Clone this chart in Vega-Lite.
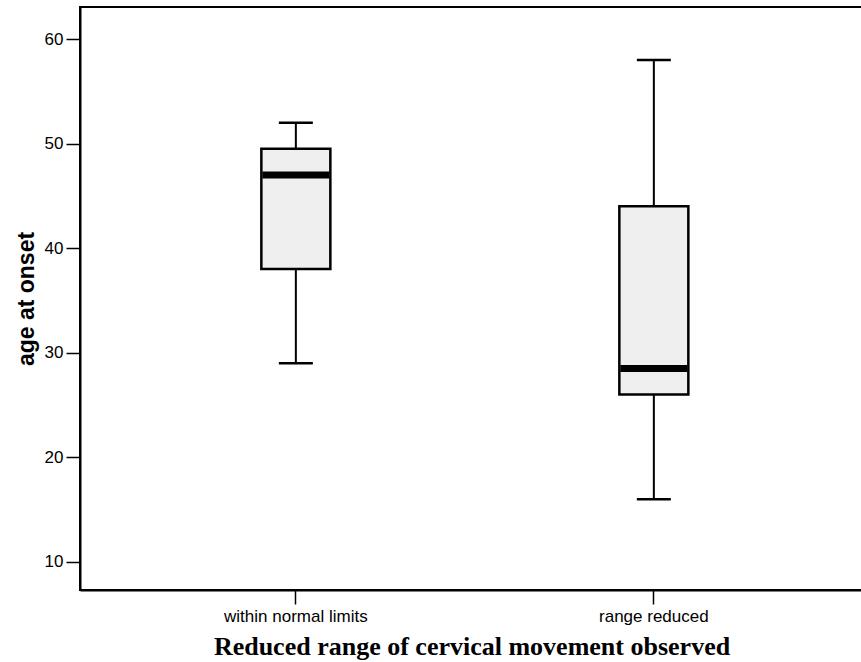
{
  "$schema": "https://vega.github.io/schema/vega-lite/v6.json",
  "autosize": "none",
  "padding": {"left": 80, "top": 7, "right": 0, "bottom": 72},
  "width": 783,
  "height": 583,
  "background": "white",
  "config": {
    "view": {"stroke": "black", "strokeWidth": 2},
    "font": "Liberation Sans"
  },
  "data": {
    "values": [
      {"group": "within normal limits", "min": 29, "q1": 38, "median": 47, "q3": 49.5, "max": 52},
      {"group": "range reduced", "min": 16, "q1": 26, "median": 28.5, "q3": 44, "max": 58}
    ]
  },
  "encoding": {
    "x": {
      "field": "group",
      "type": "nominal",
      "sort": ["within normal limits", "range reduced"],
      "scale": {"paddingInner": 0, "paddingOuter": 0.0936, "align": 0.55},
      "axis": {
        "title": "Reduced range of cervical movement observed",
        "titleFont": "Liberation Serif",
        "titleFontSize": 26,
        "titleFontWeight": "bold",
        "titleColor": "black",
        "titlePadding": 9,
        "labelAngle": 0,
        "labelFont": "Liberation Sans",
        "labelFontSize": 17,
        "labelColor": "black",
        "labelPadding": 4,
        "tickSize": 14,
        "tickColor": "black",
        "tickWidth": 1.5,
        "domainColor": "black",
        "domainWidth": 2
      }
    }
  },
  "layer": [
    {
      "mark": {"type": "rule", "color": "black", "strokeWidth": 2},
      "encoding": {
        "y": {
          "field": "min",
          "type": "quantitative",
          "scale": {"domain": [7.32, 63.06], "nice": false, "zero": false},
          "axis": {
            "title": "age at onset",
            "titleFont": "Liberation Sans",
            "titleFontSize": 23,
            "titleFontWeight": "bold",
            "titleColor": "black",
            "titlePadding": 6,
            "values": [10, 20, 30, 40, 50, 60],
            "grid": false,
            "labelFont": "Liberation Sans",
            "labelFontSize": 17,
            "labelColor": "black",
            "labelPadding": 3,
            "tickSize": 14,
            "tickColor": "black",
            "tickWidth": 1.5,
            "domainColor": "black",
            "domainWidth": 2
          }
        },
        "y2": {"field": "max"}
      }
    },
    {
      "mark": {"type": "bar", "size": 69, "fill": "#efefef", "stroke": "black", "strokeWidth": 2.5},
      "encoding": {
        "y": {"field": "q1", "type": "quantitative"},
        "y2": {"field": "q3"}
      }
    },
    {
      "mark": {"type": "tick", "size": 67, "thickness": 7, "color": "black", "opacity": 1},
      "encoding": {"y": {"field": "median", "type": "quantitative"}}
    },
    {
      "mark": {"type": "tick", "size": 34, "thickness": 2.5, "color": "black", "opacity": 1},
      "encoding": {"y": {"field": "min", "type": "quantitative"}}
    },
    {
      "mark": {"type": "tick", "size": 34, "thickness": 2.5, "color": "black", "opacity": 1},
      "encoding": {"y": {"field": "max", "type": "quantitative"}}
    }
  ]
}
